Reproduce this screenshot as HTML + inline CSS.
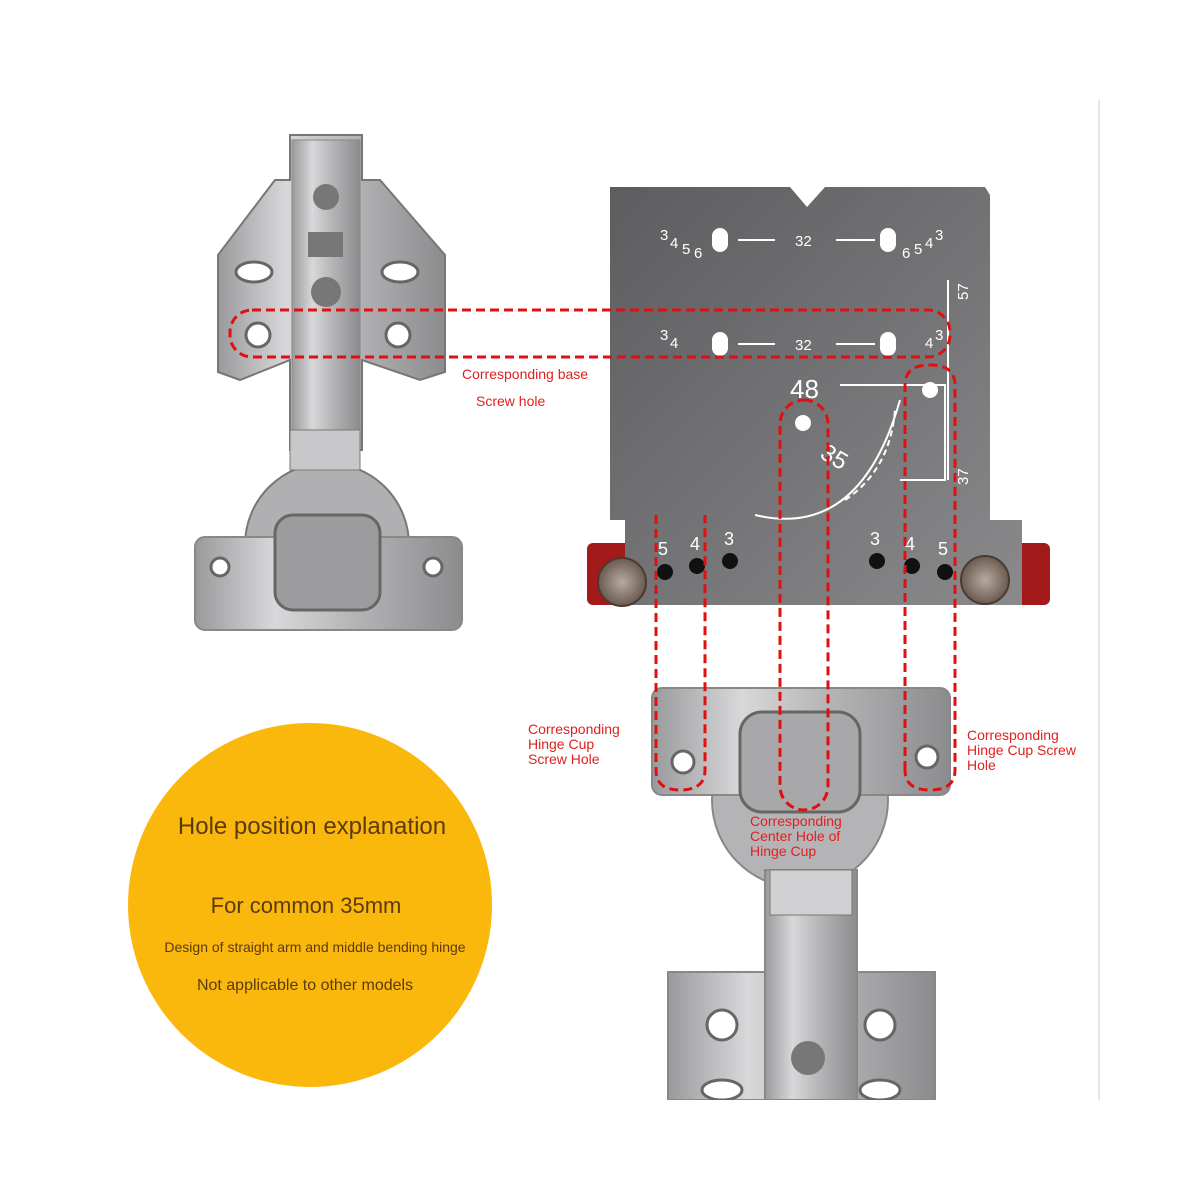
<!DOCTYPE html>
<html><head><meta charset="utf-8"><style>
html,body{margin:0;padding:0;background:#fff;}
svg{display:block;font-family:"Liberation Sans",sans-serif;}
</style></head><body>
<svg width="1200" height="1200" viewBox="0 0 1200 1200" xmlns="http://www.w3.org/2000/svg">
<defs>
<linearGradient id="steel" x1="0" x2="1" y1="0" y2="0">
<stop offset="0" stop-color="#9a9a9c"/><stop offset="0.3" stop-color="#d8d8da"/><stop offset="0.6" stop-color="#b4b4b6"/><stop offset="1" stop-color="#8c8c8e"/></linearGradient>
<linearGradient id="plate" x1="0" x2="1" y1="0" y2="1">
<stop offset="0" stop-color="#5d5d5f"/><stop offset="0.5" stop-color="#737375"/><stop offset="1" stop-color="#8a8a8c"/></linearGradient>
<radialGradient id="knob"><stop offset="0" stop-color="#b8aaa0"/><stop offset="1" stop-color="#6a5a50"/></radialGradient>
</defs>
<rect width="1200" height="1200" fill="#fff"/>
<line x1="1099" y1="100" x2="1099" y2="1100" stroke="#ddd" stroke-width="1.5"/>

<!-- top-left hinge -->
<path d="M218,255 L275,180 L290,180 L290,135 L362,135 L362,180 L380,180 L445,255 L445,372 L420,380 L362,360 L362,450 L290,450 L290,360 L240,380 L218,372 Z" fill="url(#steel)" stroke="#777" stroke-width="2"/>
<rect x="292" y="140" width="68" height="310" fill="url(#steel)" stroke="#888"/>
<circle cx="327" cy="545" r="82" fill="#b0b0b2" stroke="#777" stroke-width="2"/>
<rect x="195" y="537" width="267" height="93" rx="10" fill="url(#steel)" stroke="#888" stroke-width="2"/>
<rect x="275" y="515" width="105" height="95" rx="18" fill="#9c9c9e" stroke="#666" stroke-width="3"/>
<rect x="290" y="430" width="70" height="40" fill="#c8c8ca" stroke="#777"/>
<circle cx="326" cy="197" r="13" fill="#777"/><circle cx="326" cy="292" r="15" fill="#777"/>
<rect x="308" y="232" width="35" height="25" fill="#777"/>
<ellipse cx="254" cy="272" rx="18" ry="10" fill="#fff" stroke="#666" stroke-width="3"/>
<ellipse cx="400" cy="272" rx="18" ry="10" fill="#fff" stroke="#666" stroke-width="3"/>
<circle cx="258" cy="335" r="12" fill="#fff" stroke="#666" stroke-width="3"/>
<circle cx="398" cy="335" r="12" fill="#fff" stroke="#666" stroke-width="3"/>
<circle cx="220" cy="567" r="9" fill="#fff" stroke="#666" stroke-width="3"/>
<circle cx="433" cy="567" r="9" fill="#fff" stroke="#666" stroke-width="3"/>

<!-- template -->
<rect x="587" y="543" width="463" height="62" rx="6" fill="#a31a1a"/>
<path d="M610,187 L790,187 L807,207 L825,187 L985,187 L990,195 L990,520 L1022,520 L1022,605 L625,605 L625,520 L610,520 Z" fill="url(#plate)"/>
<g fill="#fff" font-size="15">
<text x="795" y="246">32</text><text x="795" y="350">32</text>
<text x="790" y="398" font-size="26">48</text>
<text x="822" y="465" font-size="24" transform="rotate(30 835 455)">35</text>
<text x="658" y="555" font-size="18">5</text><text x="690" y="550" font-size="18">4</text><text x="724" y="545" font-size="18">3</text>
<text x="870" y="545" font-size="18">3</text><text x="905" y="550" font-size="18">4</text><text x="938" y="555" font-size="18">5</text>
<text x="660" y="240">3</text><text x="670" y="248">4</text><text x="682" y="254">5</text><text x="694" y="258">6</text>
<text x="935" y="240">3</text><text x="925" y="248">4</text><text x="914" y="254">5</text><text x="902" y="258">6</text>
<text x="660" y="340">3</text><text x="670" y="348">4</text><text x="935" y="340">3</text><text x="925" y="348">4</text>
<text x="968" y="300" transform="rotate(-90 968 300)">57</text>
<text x="968" y="485" transform="rotate(-90 968 485)">37</text>
</g>
<g stroke="#fff" stroke-width="2" fill="none">
<line x1="738" y1="240" x2="775" y2="240"/><line x1="836" y1="240" x2="875" y2="240"/>
<line x1="738" y1="344" x2="775" y2="344"/><line x1="836" y1="344" x2="875" y2="344"/>
<line x1="948" y1="280" x2="948" y2="480"/>
<path d="M840,385 L945,385 L945,480 L900,480"/>
<path d="M755,515 Q860,540 900,400"/>
<path d="M845,500 Q890,470 895,410" stroke-dasharray="6 4"/>
</g>
<g fill="#fff"><rect x="712" y="228" width="16" height="24" rx="8"/><rect x="880" y="228" width="16" height="24" rx="8"/>
<rect x="712" y="332" width="16" height="24" rx="8"/><rect x="880" y="332" width="16" height="24" rx="8"/>
<circle cx="930" cy="390" r="8"/><circle cx="803" cy="423" r="8"/></g>
<g fill="#111"><circle cx="665" cy="572" r="8"/><circle cx="697" cy="566" r="8"/><circle cx="730" cy="561" r="8"/>
<circle cx="877" cy="561" r="8"/><circle cx="912" cy="566" r="8"/><circle cx="945" cy="572" r="8"/></g>
<circle cx="622" cy="582" r="24" fill="url(#knob)" stroke="#4a3a30" stroke-width="2"/>
<circle cx="985" cy="580" r="24" fill="url(#knob)" stroke="#4a3a30" stroke-width="2"/>

<!-- bottom hinge -->
<circle cx="800" cy="800" r="88" fill="#b4b4b6" stroke="#888" stroke-width="2"/>
<rect x="652" y="688" width="298" height="107" rx="10" fill="url(#steel)" stroke="#888" stroke-width="2"/>
<rect x="740" y="712" width="120" height="100" rx="22" fill="#a8a8aa" stroke="#666" stroke-width="3"/>
<rect x="668" y="972" width="267" height="128" fill="url(#steel)" stroke="#888" stroke-width="2"/>
<rect x="765" y="870" width="92" height="230" fill="url(#steel)" stroke="#888" stroke-width="2"/>
<rect x="770" y="870" width="82" height="45" fill="#d0d0d2" stroke="#777"/>
<circle cx="808" cy="1058" r="17" fill="#777"/>
<circle cx="683" cy="762" r="11" fill="#fff" stroke="#666" stroke-width="3"/>
<circle cx="927" cy="757" r="11" fill="#fff" stroke="#666" stroke-width="3"/>
<circle cx="722" cy="1025" r="15" fill="#fff" stroke="#666" stroke-width="3"/>
<circle cx="880" cy="1025" r="15" fill="#fff" stroke="#666" stroke-width="3"/>
<ellipse cx="722" cy="1090" rx="20" ry="10" fill="#fff" stroke="#666" stroke-width="3"/>
<ellipse cx="880" cy="1090" rx="20" ry="10" fill="#fff" stroke="#666" stroke-width="3"/>
<rect x="600" y="1100" width="400" height="100" fill="#fff"/>

<!-- red dashed -->
<g fill="none" stroke="#e01010" stroke-width="3" stroke-dasharray="9 5">
<rect x="230" y="310" width="720" height="47" rx="22"/>
<rect x="780" y="400" width="48" height="410" rx="24"/>
<path d="M656,515 L656,770 Q656,790 680,790 Q705,790 705,770 L705,515"/>
<path d="M905,770 L905,385 Q905,365 930,365 Q955,365 955,385 L955,770 Q955,790 930,790 Q905,790 905,770"/>
</g>
<g fill="#e02020" font-size="14">
<text x="462" y="379">Corresponding base</text>
<text x="476" y="406">Screw hole</text>
<text x="528" y="734">Corresponding</text><text x="528" y="749">Hinge Cup</text><text x="528" y="764">Screw Hole</text>
<text x="967" y="740">Corresponding</text><text x="967" y="755">Hinge Cup Screw</text><text x="967" y="770">Hole</text>
<text x="750" y="826">Corresponding</text><text x="750" y="841">Center Hole of</text><text x="750" y="856">Hinge Cup</text>
</g>

<!-- yellow circle -->
<circle cx="310" cy="905" r="182" fill="#fbb80c"/>
<g fill="#5a3a10" text-anchor="middle">
<text x="312" y="834" font-size="24">Hole position explanation</text>
<text x="306" y="913" font-size="22">For common 35mm</text>
<text x="315" y="952" font-size="14">Design of straight arm and middle bending hinge</text>
<text x="305" y="990" font-size="16">Not applicable to other models</text>
</g>
</svg>
</body></html>
